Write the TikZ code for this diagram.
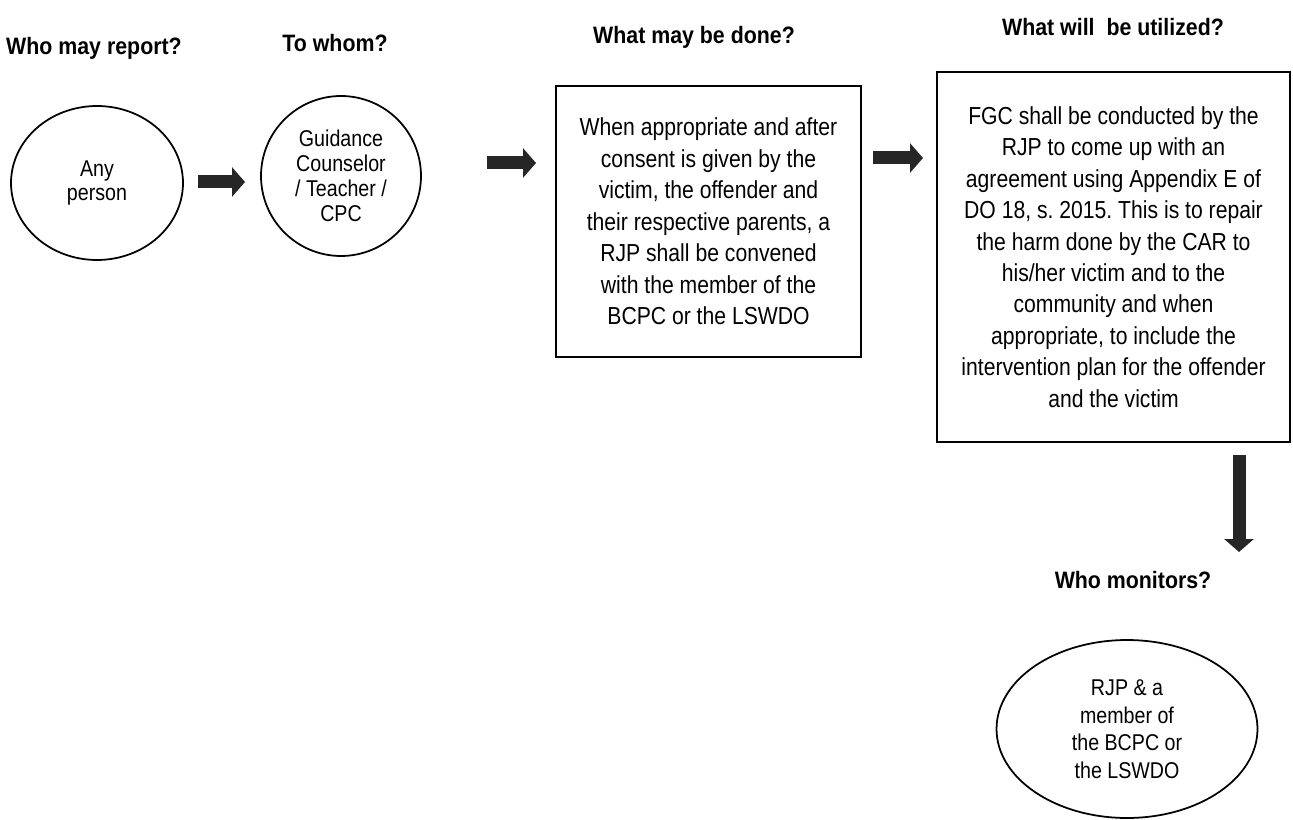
\documentclass[tikz,border=0pt]{standalone}
\usepackage{fontspec}
\setmainfont{Liberation Sans}
\newfontfamily\narrowfont{Liberation Sans}[FakeStretch=0.86]
\newfontfamily\headfont{Liberation Sans}[FakeStretch=0.9]
\usetikzlibrary{shapes.geometric,arrows.meta,positioning}
\frenchspacing

\begin{document}
\begin{tikzpicture}[x=0.02cm,y=-0.02cm,
    head/.style={font=\headfont\bfseries\fontsize{13.5}{15}\selectfont},
    oval/.style={draw,ellipse,line width=1pt,inner sep=0pt,align=center,font=\narrowfont\fontsize{13}{14.2}\selectfont},
    box/.style={draw,rectangle,line width=1pt,inner sep=0pt,align=center,font=\narrowfont\fontsize{14}{17.9}\selectfont},
    fat/.style={line width=0.26cm,draw=black!85,-{Triangle[length=0.26cm,width=0.58cm]}}]

      \useasboundingbox (0,0) rectangle (1293,820);

      % column titles
      \node[head] (who) at (94,48) {Who may report?};
      \node[head] (whom) at (335,43) {To whom?};
      \node[head] (what) at (694,37) {What may be done?};
      \node[head] (used) at (1113,27) {What will~ be utilized?};
      \node[head] (mon) at (1133,580) {Who monitors?};

      % steps
      \node[oval,minimum width=3.44cm,minimum height=3.08cm] (anyone) at (97,183) {Any\\person};
      \node[oval,minimum width=3.2cm,minimum height=3.2cm] (counselor) at (341,176) {Guidance\\Counselor\\/ Teacher /\\CPC};
      \node[box,minimum width=6.1cm,minimum height=5.42cm] (rjp) at (708.5,221.5)
        {When appropriate and after\\consent is given by the\\victim, the offender and\\their respective parents, a\\RJP shall be convened\\with the member of the\\BCPC or the LSWDO};
      \node[box,minimum width=7.06cm,minimum height=7.4cm] (fgc) at (1113.5,257)
        {FGC shall be conducted by the\\RJP to come up with an\\agreement using Appendix E of\\DO 18, s. 2015. This is to repair\\the harm done by the CAR to\\his/her victim and to the\\community and when\\appropriate, to include the\\intervention plan for the offender\\and the victim};
      \node[oval,minimum width=5.22cm,minimum height=3.56cm,font=\narrowfont\fontsize{13}{15.7}\selectfont] (monitor) at (1127,729)
        {RJP \& a\\member of\\the BCPC or\\the LSWDO};

      % arrows
      \coordinate (a1s) at (198,182);
      \coordinate (a1e) at (245,182);
      \coordinate (a2s) at (487,163);
      \coordinate (a2e) at (536,163);
      \coordinate (a3s) at (873,158);
      \coordinate (a3e) at (923,158);
      \coordinate (a4s) at (1239,455);
      \coordinate (a4e) at (1239,552);

      \draw[fat] (a1s) -- (a1e);
      \draw[fat] (a2s) -- (a2e);
      \draw[fat] (a3s) -- (a3e);
      \draw[fat] (a4s) -- (a4e);

    \end{tikzpicture}
\end{document}
